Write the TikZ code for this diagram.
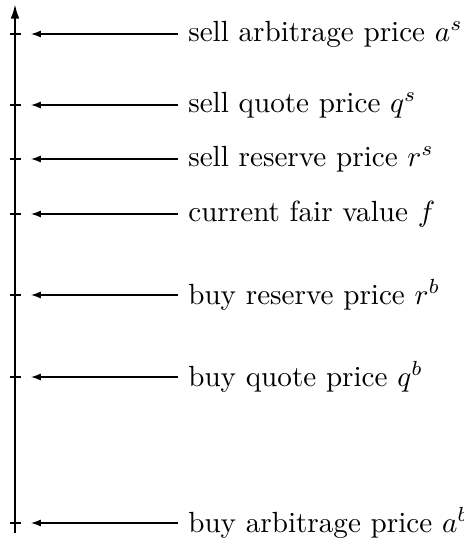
\documentclass[tikz,border=0pt]{standalone}
\usetikzlibrary{arrows.meta}
\begin{document}
\begin{tikzpicture}[x=0.343pt,y=-0.343pt,every node/.style={font=\fontsize{10}{12}\selectfont},>={Latex[length=3.4pt,width=2.4pt]}]
\path[use as bounding box] (0,0) rectangle (463,542);
% price axis
\draw[thick,-{Latex[length=5pt,width=3pt]}] (15,533) -- (15,4);
\foreach \y/\name/\txt in {34/as/{sell arbitrage price $a^s$},105/qs/{sell quote price $q^s$},159/rs/{sell reserve price $r^s$},214/f/{current fair value $f$},295/rb/{buy reserve price $r^b$},377/qb/{buy quote price $q^b$},523/ab/{buy arbitrage price $a^b$}}{
  \draw[thick] (10,\y) -- (21,\y);
  \coordinate (t\name) at (31,\y);
  \node[anchor=west] (l\name) at (178,\y) {\txt};
  \draw[->] (l\name.west) -- (t\name);
}
\end{tikzpicture}
\end{document}
